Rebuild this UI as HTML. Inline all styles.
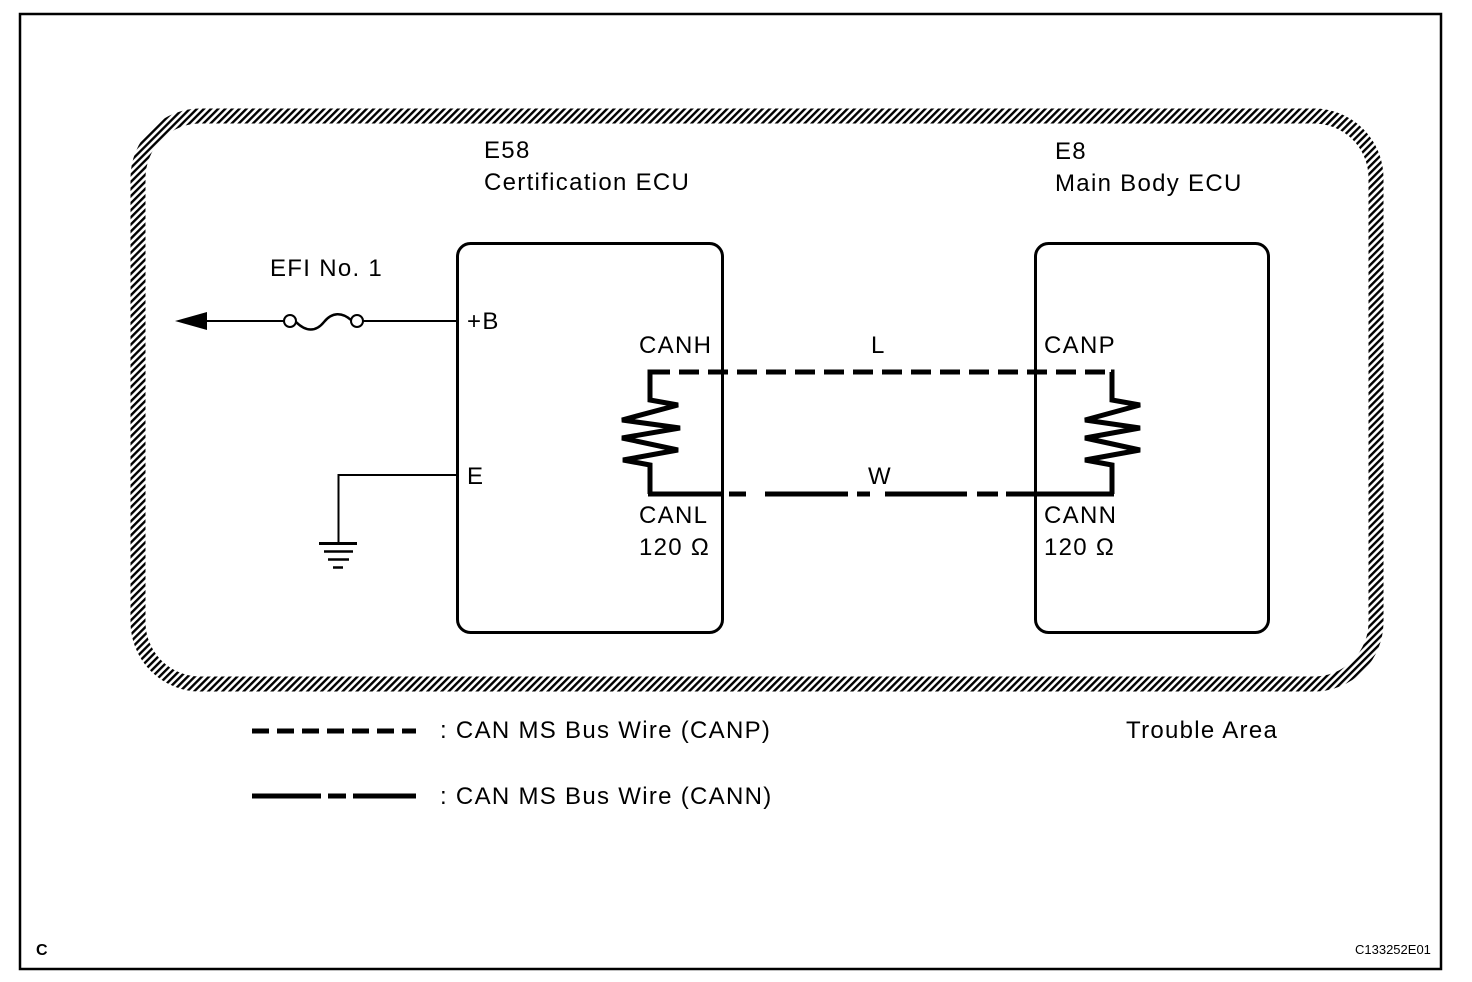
<!DOCTYPE html>
<html><head><meta charset="utf-8"><style>
body{margin:0;background:#fff}
svg{display:block}
text{font-family:"Liberation Sans",Arial,sans-serif;fill:#000}
</style></head><body>
<svg width="1472" height="982" viewBox="0 0 1472 982" xmlns="http://www.w3.org/2000/svg">
<defs>
<pattern id="h" width="5" height="5" patternUnits="userSpaceOnUse" patternTransform="rotate(45)">
<rect width="2.4" height="5" fill="#000"/>
</pattern>
</defs>
<rect x="20" y="14" width="1421" height="955" fill="none" stroke="#000" stroke-width="2.5"/>
<rect x="138" y="116" width="1238" height="568" rx="62" fill="none" stroke="url(#h)" stroke-width="15"/>
<rect x="457.5" y="243.5" width="265" height="389" rx="13" fill="none" stroke="#000" stroke-width="3"/>
<rect x="1035.5" y="243.5" width="233" height="389" rx="13" fill="none" stroke="#000" stroke-width="3"/>
<g font-size="24" letter-spacing="1.3">
<text x="484" y="158">E58</text>
<text x="484" y="190">Certification ECU</text>
<text x="1055" y="159">E8</text>
<text x="1055" y="191">Main Body ECU</text>
<text x="270" y="276">EFI No. 1</text>
<text x="467" y="329">+B</text>
<text x="467" y="484">E</text>
<text x="639" y="353">CANH</text>
<text x="639" y="523">CANL</text>
<text x="639" y="555">120 Ω</text>
<text x="871" y="353">L</text>
<text x="868" y="484">W</text>
<text x="1044" y="353">CANP</text>
<text x="1044" y="523">CANN</text>
<text x="1044" y="555">120 Ω</text>
<text x="440" y="738">: CAN MS Bus Wire (CANP)</text>
<text x="440" y="804">: CAN MS Bus Wire (CANN)</text>
<text x="1126" y="738">Trouble Area</text>
</g>
<text x="36" y="955" font-size="16" font-weight="bold">C</text>
<text x="1355" y="954" font-size="13">C133252E01</text>
<polygon points="175,321 207,312 207,330" fill="#000"/>
<line x1="205" y1="321" x2="284" y2="321" stroke="#000" stroke-width="2"/>
<circle cx="290" cy="321" r="6" fill="#fff" stroke="#000" stroke-width="2"/>
<circle cx="357" cy="321" r="6" fill="#fff" stroke="#000" stroke-width="2"/>
<path d="M296,322 C306,332 316,332 324,322 C332,312 342,312 351,320" fill="none" stroke="#000" stroke-width="2.5"/>
<line x1="363" y1="321" x2="457" y2="321" stroke="#000" stroke-width="2"/>
<polyline points="457,475 338.5,475 338.5,543" fill="none" stroke="#000" stroke-width="2"/>
<line x1="319" y1="543.5" x2="357" y2="543.5" stroke="#000" stroke-width="3"/>
<line x1="324" y1="551.5" x2="353" y2="551.5" stroke="#000" stroke-width="2.5"/>
<line x1="328" y1="559.5" x2="349" y2="559.5" stroke="#000" stroke-width="2.5"/>
<line x1="333" y1="567.5" x2="343" y2="567.5" stroke="#000" stroke-width="2.5"/>
<polyline points="652,372 650,372 650,400 678,405 622,420 680,428 622,438 678,450 623,460 650,465 650,494" fill="none" stroke="#000" stroke-width="5"/>
<polyline points="1111,372 1112,372 1112,400 1140,405 1085,420 1140,428 1085,438 1140,450 1085,460 1112,465 1112,494" fill="none" stroke="#000" stroke-width="5"/>
<line x1="650" y1="372" x2="1112" y2="372" stroke="#000" stroke-width="5" stroke-dasharray="20 9"/>
<g stroke="#000" stroke-width="5">
<line x1="648" y1="494" x2="723" y2="494"/>
<line x1="729" y1="494" x2="746" y2="494"/>
<line x1="765" y1="494" x2="848" y2="494"/>
<line x1="857" y1="494" x2="870" y2="494"/>
<line x1="885" y1="494" x2="967" y2="494"/>
<line x1="977" y1="494" x2="998" y2="494"/>
<line x1="1006" y1="494" x2="1114" y2="494"/>
<line x1="252" y1="731" x2="416" y2="731" stroke-dasharray="17 8"/>
<line x1="252" y1="796" x2="321" y2="796"/>
<line x1="328" y1="796" x2="346" y2="796"/>
<line x1="353" y1="796" x2="416" y2="796"/>
</g>
</svg>
</body></html>
